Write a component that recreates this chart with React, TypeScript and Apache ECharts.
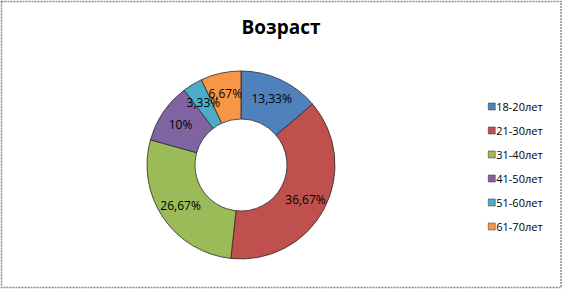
import React, { useEffect, useRef } from "react";
import * as echarts from "echarts";

const categories = ["18-20лет", "21-30лет", "31-40лет", "41-50лет", "51-60лет", "61-70лет"];
const shares = [13.33, 36.67, 26.67, 10, 3.33, 6.67];
const colors = ["#4F81BD", "#C0504D", "#9BBB59", "#8064A2", "#4BACC6", "#F79646"];
const titleText = "Возраст";

const FONT = "'Open Sans', 'Noto Sans', sans-serif";

export default function App() {
  const ref = useRef<HTMLDivElement>(null);

  useEffect(() => {
    if (!ref.current) return;
    const chart = echarts.init(ref.current, undefined, { renderer: "svg" });
    chart.setOption({
      animation: false,
      backgroundColor: "#ffffff",
      title: {
        text: titleText,
        left: 276,
        top: 12,
        textAlign: "center",
        textStyle: { fontFamily: FONT, fontWeight: "bold", fontSize: 19, color: "#000" },
      },
      legend: {
        orient: "vertical",
        left: 483,
        top: 96,
        itemWidth: 7,
        itemHeight: 7,
        itemGap: 13,
        icon: "rect",
        textStyle: { fontFamily: FONT, fontSize: 11, color: "#000", padding: [0, 0, 0, -4] },
        itemStyle: { borderColor: "#333", borderWidth: 0.5 },
        data: categories,
      },
      graphic: [
        {
          type: "rect",
          shape: { x: 1.5, y: 1.5, width: 559.5, height: 286 },
          style: { fill: "none", stroke: "#8a8a8a", lineWidth: 1.5, lineDash: [2, 1] },
          silent: true,
        },
      ],
      series: [
        {
          type: "pie",
          center: [241, 165],
          radius: [46, 94],
          startAngle: 90,
          clockwise: true,
          avoidLabelOverlap: false,
          minShowLabelAngle: 0,
          labelLayout: { hideOverlap: false },
          itemStyle: { borderColor: "#2a2a2a", borderWidth: 0.8 },
          label: {
            show: true,
            position: "inside",
            fontFamily: FONT,
            fontSize: 12,
            color: "#000",
            overflow: "none",
            formatter: (p: any) => String(p.value).replace(".", ",") + "%",
          },
          labelLine: { show: false },
          data: categories.map((name, i) => ({
            name,
            value: shares[i],
            itemStyle: { color: colors[i] },
          })),
        },
      ],
    });
    return () => chart.dispose();
  }, []);

  return (
    <div
      ref={ref}
      style={{ position: "fixed", left: 0, top: 0, width: 563, height: 289 }}
    />
  );
}
